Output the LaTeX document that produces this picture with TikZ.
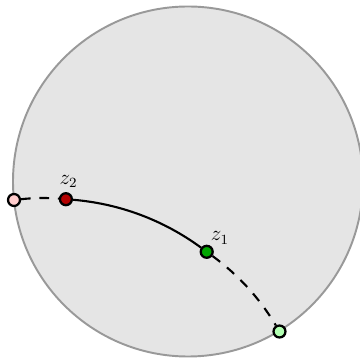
\documentclass[tikz,border=0pt]{standalone}
\usepackage{amsmath, amssymb}
\usepackage{tikz}
\usetikzlibrary{calc}

\begin{document}
\begin{tikzpicture}[
    disk/.style={fill=gray!20, draw=gray!80, line width=1.1pt},
    pt_node/.style={circle, draw=black, line width=1.3pt, inner sep=0pt, minimum size=6.8pt},
    pt_label/.style={font=\large},
    geo_line/.style={black, line width=1.2pt, looseness=0.87},
    geo_dash/.style={geo_line, dash pattern=on 5.5pt off 5pt}
    ]
    \useasboundingbox (-3.76,-3.57) rectangle (3.42,3.63);

    % Disk
    \draw[disk] (0,0) circle (3.5);

    % Nodes
    \node[pt_node, fill=red!20] (ea) at (-3.48,-0.37) {};
    \node[pt_node, fill=red!70!black, label={[pt_label, xshift=1.5pt, yshift=-1pt]above:$z_2$}] (z2) at (-2.442,-0.354) {};
    \node[pt_node, fill=green!65!black, label={[pt_label, xshift=-4pt, yshift=-2pt]above right:$z_1$}] (z1) at (0.374,-1.406) {};
    \node[pt_node, fill=green!30] (eb) at (1.83,-3.0) {};

    % Geodesic
    \draw[geo_dash] (ea) to[bend left=5.4] (z2);
    \draw[geo_line] (z2) to[bend left=15.8] (z1);
    \draw[geo_dash] (z1) to[bend left=11.45] (eb);
\end{tikzpicture}
\end{document}
